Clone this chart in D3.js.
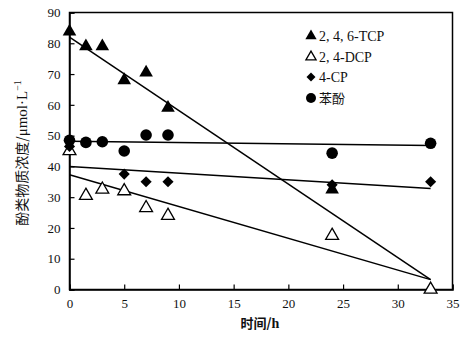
<!DOCTYPE html>
<html><head><meta charset="utf-8">
<script src="https://cdn.jsdelivr.net/npm/d3@7"></script>
<style>body{margin:0;background:#fff}</style>
</head><body>
<svg id="c" width="473" height="337"></svg>
<script>
const tcpX = [0, 1.5, 3, 5, 7, 9, 24];
const tcpY = [83.8, 79, 79, 68, 70.5, 59, 32.5];
const dcpX = [0, 1.5, 3, 5, 7, 9, 24, 33];
const dcpY = [45, 30.5, 32.5, 32, 26.5, 24, 17.5, 0];
const cpX = [0, 5, 7, 9, 24, 33];
const cpY = [46.5, 37.5, 35, 35, 34, 35];
const phX = [0, 1.5, 3, 5, 7, 9, 24, 33];
const phY = [48.5, 47.8, 48, 45, 50.2, 50.2, 44.3, 47.5];
// trend lines: [x0, y0, x1, y1]
const tcpFit = [[0, 82], [33, 3.2]];
const dcpFit = [[0, 37.3], [33, 3.2]];
const cpFit = [[0, 40], [33, 32.8]];
const phFit = [[0, 48.2], [33, 46.8]];
const xTicks = [0, 5, 10, 15, 20, 25, 30, 35];
const yTicks = [0, 10, 20, 30, 40, 50, 60, 70, 80, 90];
const legendLabels = ["2, 4, 6-TCP", "2, 4-DCP", "4-CP", "苯酚"];

const svg = d3.select("#c");
const L = 69.5, R = 452.5, T = 12.5, B = 289.5;
const x = d3.scaleLinear().domain([0, 35]).range([L, R]);
const y = d3.scaleLinear().domain([0, 90]).range([B, T]);
const serif = "'Liberation Serif','Times New Roman',serif";
const cjk = "'Noto Sans CJK SC',sans-serif";

// frame
svg.append("rect").attr("x", L).attr("y", T).attr("width", R - L).attr("height", B - T)
  .attr("fill", "none").attr("stroke", "#000").attr("stroke-width", 1.5);

const xa = svg.append("g").attr("transform", `translate(0,${B})`)
  .call(d3.axisBottom(x).tickValues(xTicks).tickSize(-5).tickPadding(9).tickFormat(d3.format("d")));
const ya = svg.append("g").attr("transform", `translate(${L},0)`)
  .call(d3.axisLeft(y).tickValues(yTicks).tickSize(-5).tickPadding(9).tickFormat(d3.format("d")));
[xa, ya].forEach(a => {
  a.select(".domain").attr("stroke", "#000").attr("stroke-width", 1.5);
  a.selectAll(".tick line").attr("stroke", "#000").attr("stroke-width", 1.2);
  a.selectAll("text").attr("font-family", serif).attr("font-size", 13).attr("fill", "#111");
});

// fit lines
const line = d3.line().x(d => x(d[0])).y(d => y(d[1]));
[tcpFit, dcpFit, cpFit, phFit].forEach(f => {
  svg.append("path").attr("d", line(f)).attr("fill", "none").attr("stroke", "#000").attr("stroke-width", 1.5);
});

const tri = d3.symbol().type(d3.symbolTriangle);
const sq = d3.symbol().type(d3.symbolSquare);

function drawSeries(xs, ys, kind) {
  xs.forEach((xv, i) => {
    const cx = x(xv), cy = y(ys[i]);
    if (kind === "tcp") {
      svg.append("path").attr("d", tri.size(80)()).attr("transform", `translate(${cx},${cy})`).attr("fill", "#000");
    } else if (kind === "dcp") {
      svg.append("path").attr("d", tri.size(72)()).attr("transform", `translate(${cx},${cy})`)
        .attr("fill", "#fff").attr("stroke", "#000").attr("stroke-width", 1.3);
    } else if (kind === "cp") {
      svg.append("path").attr("d", sq.size(62)()).attr("transform", `translate(${cx},${cy}) rotate(45)`).attr("fill", "#000");
    } else {
      svg.append("circle").attr("cx", cx).attr("cy", cy).attr("r", 5.8).attr("fill", "#000");
    }
  });
}
drawSeries(dcpX, dcpY, "dcp");
drawSeries(phX, phY, "ph");
drawSeries(cpX, cpY, "cp");
drawSeries(tcpX, tcpY, "tcp");

// legend
const lg = svg.append("g");
const ly = [36, 57, 77, 98];
legendLabels.forEach((t, i) => {
  const cx = 311, cy = ly[i];
  if (i === 0) lg.append("path").attr("d", tri.size(55)()).attr("transform", `translate(${cx},${cy})`).attr("fill", "#000");
  else if (i === 1) lg.append("path").attr("d", tri.size(45)()).attr("transform", `translate(${cx},${cy})`).attr("fill", "#fff").attr("stroke", "#000").attr("stroke-width", 1.3);
  else if (i === 2) lg.append("path").attr("d", sq.size(40)()).attr("transform", `translate(${cx},${cy}) rotate(45)`).attr("fill", "#000");
  else lg.append("circle").attr("cx", cx).attr("cy", cy).attr("r", 5).attr("fill", "#000");
  lg.append("text").attr("x", 319).attr("y", cy + 5).text(t)
    .attr("font-family", i === 3 ? cjk : serif).attr("font-size", i === 3 ? 13 : 14).attr("fill", "#111");
});

// axis titles
const xt = svg.append("text").attr("x", 260).attr("y", 328).attr("text-anchor", "middle")
  .attr("font-family", cjk).attr("font-size", 13).attr("font-weight", "bold").attr("fill", "#111");
xt.append("tspan").text("时间/");
xt.append("tspan").attr("font-family", serif).attr("font-size", 14).text("h");
const yt = svg.append("text").attr("transform", "translate(27,153) rotate(-90)").attr("text-anchor", "middle")
  .attr("font-family", cjk).attr("font-size", 14).attr("fill", "#111");
yt.append("tspan").text("酚类物质浓度/");
yt.append("tspan").attr("font-family", serif).attr("font-size", 15).text("μmol·L");
yt.append("tspan").attr("font-family", serif).attr("font-size", 10).attr("dy", -6).text("−1");
</script>
</body></html>
